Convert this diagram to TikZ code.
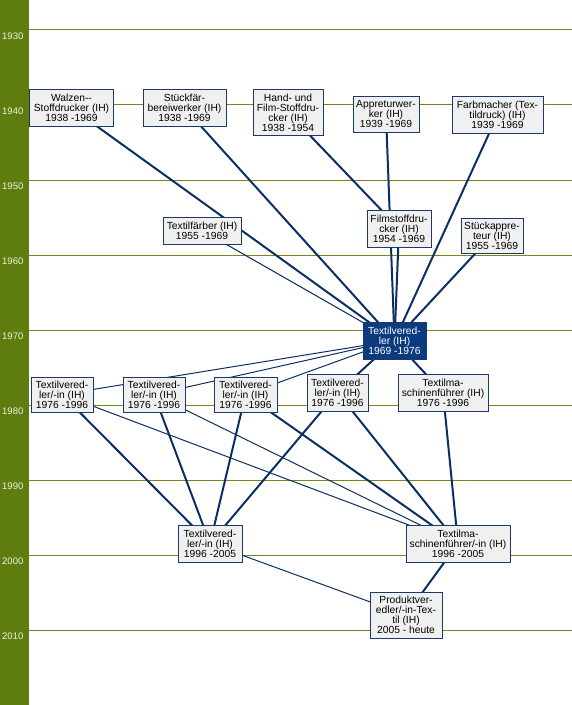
\documentclass[tikz,border=0pt]{standalone}
\usepackage{fontspec}
\setmainfont{Liberation Sans}
\usetikzlibrary{backgrounds}
\definecolor{bargreen}{HTML}{5E7D0E}
\definecolor{gridcol}{HTML}{7A841C}
\definecolor{boxfill}{HTML}{F0F0F0}
\definecolor{boxborder}{HTML}{1C3A68}
\definecolor{linecol}{HTML}{0C2F63}
\definecolor{mainfill}{HTML}{0B3B7E}
\definecolor{yeartext}{HTML}{EEF2DC}
\newcommand\boxfont{\fontsize{10.3bp}{10bp}\selectfont}
\newcommand\yearfont{\fontsize{9.5bp}{10bp}\selectfont}
\pgfdeclarelayer{gridlayer}
\pgfdeclarelayer{connlayer}
\pgfsetlayers{gridlayer,connlayer,main}
\tikzset{
  box/.style={draw=boxborder, fill=boxfill, line width=1bp, inner sep=0pt,
    align=center, font=\boxfont, text=black},
  mainbox/.style={box, fill=mainfill, text=white},
  conn/.style={draw=linecol, line width=2bp},
  thinconn/.style={draw=linecol, line width=1bp},
  gridline/.style={draw=gridcol, line width=1bp},
  yearlabel/.style={anchor=west, inner sep=0pt, font=\yearfont, text=yeartext},
}
\begin{document}
\begin{tikzpicture}[x=1bp,y=-1bp]
\useasboundingbox (0,0) rectangle (572,705);
\fill[bargreen] (0,0) rectangle (29,705);
% year grid
\foreach \yr [count=\i from 0] in {1930,1940,1950,1960,1970,1980,1990,2000,2010}{
  \coordinate (gl\yr) at (29,{30+75*\i});
  \coordinate (gr\yr) at (572,{30+75*\i});
  \node[yearlabel] (y\yr) at (2,{36+75*\i}) {\yr};
}
% boxes
\node[box, minimum width=83bp, minimum height=36bp] (walzen) at (71.5,108) {Walzen-{}-\\Stoffdrucker (IH)\\1938 -1969};
\node[box, minimum width=83bp, minimum height=36bp] (stueckfaer) at (184.5,108) {Stückfär-\\bereiwerker (IH)\\1938 -1969};
\node[box, minimum width=70bp, minimum height=45bp] (hand) at (288,112.5) {Hand- und\\Film-Stoffdru-\\cker (IH)\\1938 -1954};
\node[box, minimum width=66bp, minimum height=35bp] (appretur) at (386,114.5) {Appreturwer-\\ker (IH)\\1939 -1969};
\node[box, minimum width=91bp, minimum height=36bp] (farbmacher) at (497.5,115) {Farbmacher (Tex-\\tildruck) (IH)\\1939 -1969};
\node[box, minimum width=78bp, minimum height=27bp] (textilfaerber) at (202,230.5) {Textilfärber (IH)\\1955 -1969};
\node[box, minimum width=64bp, minimum height=37bp] (filmstoff) at (399,228.5) {Filmstoffdru-\\cker (IH)\\1954 -1969};
\node[box, minimum width=62bp, minimum height=35bp] (stueckappr) at (492,235.5) {Stückappre-\\teur (IH)\\1955 -1969};
\node[mainbox, minimum width=63bp, minimum height=37bp] (central) at (394.5,340.5) {Textilvered-\\ler (IH)\\1969 -1976};
\node[box, minimum width=62bp, minimum height=35bp] (tva) at (62,394.5) {Textilvered-\\ler/-in (IH)\\1976 -1996};
\node[box, minimum width=62bp, minimum height=35bp] (tvb) at (154,394.5) {Textilvered-\\ler/-in (IH)\\1976 -1996};
\node[box, minimum width=63bp, minimum height=35bp] (tvc) at (245.5,394.5) {Textilvered-\\ler/-in (IH)\\1976 -1996};
\node[box, minimum width=61bp, minimum height=37bp] (tvd) at (337.5,392.5) {Textilvered-\\ler/-in (IH)\\1976 -1996};
\node[box, minimum width=90bp, minimum height=37bp] (tmfa) at (443,392.5) {Textilma-\\schinenführer (IH)\\1976 -1996};
\node[box, minimum width=64bp, minimum height=37bp] (tvnew) at (210,543.5) {Textilvered-\\ler/-in (IH)\\1996 -2005};
\node[box, minimum width=104bp, minimum height=37bp] (tmfnew) at (458,543.5) {Textilma-\\schinenführer/-in (IH)\\1996 -2005};
\node[box, minimum width=72bp, minimum height=46bp] (produkt) at (406,615) {Produktver-\\edler/-in-Tex-\\til (IH)\\2005 - heute};
% grid lines
\begin{pgfonlayer}{gridlayer}
\foreach \yr in {1930,1940,1950,1960,1970,1980,1990,2000,2010}{
  \draw[gridline] (gl\yr) -- (gr\yr);
}
\end{pgfonlayer}
% connectors
\begin{pgfonlayer}{connlayer}
\draw[conn] (walzen.center) -- (central.center);
\draw[conn] (stueckfaer.center) -- (central.center);
\draw[conn] (hand.center) -- (filmstoff.center);
\draw[conn] (appretur.center) -- (central.center);
\draw[conn] (farbmacher.center) -- (central.center);
\draw[thinconn] (textilfaerber.center) -- (central.center);
\draw[conn] (filmstoff.center) -- (central.center);
\draw[conn] (stueckappr.center) -- (central.center);
\draw[thinconn] (central.center) -- (tva.center);
\draw[thinconn] (central.center) -- (tvb.center);
\draw[thinconn] (central.center) -- (tvc.center);
\draw[conn] (central.center) -- (tvd.center);
\draw[conn] (central.center) -- (tmfa.center);
\draw[conn] (tva.center) -- (tvnew.center);
\draw[conn] (tvb.center) -- (tvnew.center);
\draw[conn] (tvc.center) -- (tvnew.center);
\draw[conn] (tvd.center) -- (tvnew.center);
\draw[thinconn] (tva.center) -- (tmfnew.center);
\draw[thinconn] (tvb.center) -- (tmfnew.center);
\draw[conn] (tvc.center) -- (tmfnew.center);
\draw[conn] (tvd.center) -- (tmfnew.center);
\draw[conn] (tmfa.center) -- (tmfnew.center);
\draw[thinconn] (tvnew.center) -- (produkt.center);
\draw[conn] (tmfnew.center) -- (produkt.center);
\end{pgfonlayer}
\end{tikzpicture}
\end{document}
